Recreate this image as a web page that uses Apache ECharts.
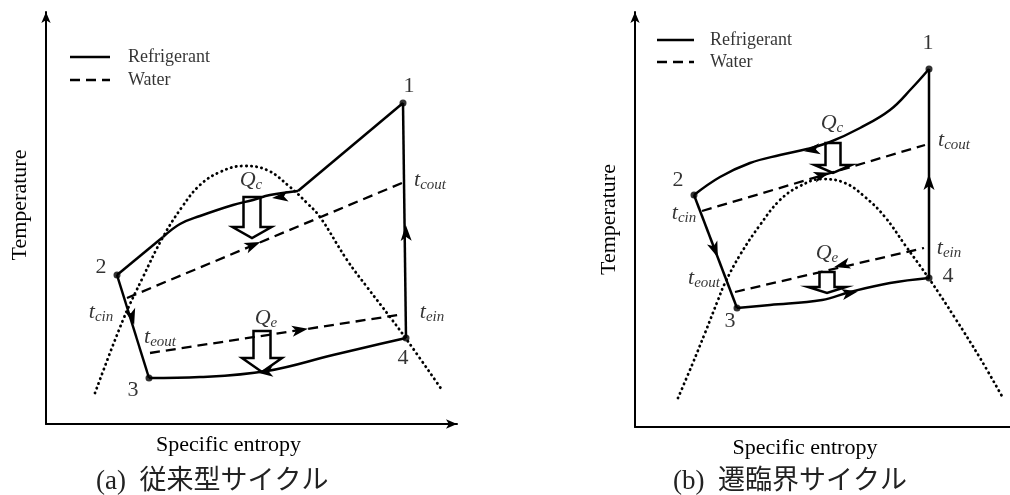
<!DOCTYPE html>
<html><head><meta charset="utf-8">
<script src="https://cdn.jsdelivr.net/npm/echarts/dist/echarts.min.js"></script>
<style>html,body{margin:0;padding:0;background:#fff}#c{width:1010px;height:495px}</style>
</head><body><div id="c"></div>
<script>
// ---------- Panel (a): conventional cycle (x: specific entropy, y: temperature, arbitrary units) ----------
const statesA = [[357,321],[71,149],[103,46],[360,86]];
const stateNames = ['1','2','3','4'];
const condA1 = [[357,321],[252,233]];
const condA2 = [[252,233],[224,229],[207,224],[187,219],[154,208],[134,200],[117,187]];
const condA3 = [[117,187],[71,149]];
const expA = [[71,149],[103,46]];
const evapA = [[103,46],[154,47],[221,53],[287,69],[321,77],[360,86]];
const compA = [[360,86],[357,321]];
const waterCondA = [[81,126],[356,241]];
const waterEvapA = [[104,71],[352,109]];
const domeA = [[49,31],[77,104],[97,147],[117,187],[136,217],[154,239],[174,252],[197,258],[221,254],[244,237],[261,221],[274,207],[301,164],[321,137],[344,107],[361,84],[396,34]];
// flow arrows: [x, y, towardX, towardY]
const flowA = [[234,227,207,224],[86,107,103,46],[219,52,154,47],[360,191,357,321],[207,179,356,241],[254,94,352,109]];
const heatA = [[206,186],[216,52]];
const textA = [
  {main:'1', at:[363,338]},{main:'2', at:[55,157]},{main:'3', at:[87,34]},{main:'4', at:[357,66]},
  {main:'t', sub:'cout', at:[384,244]},{main:'t', sub:'cin', at:[55,112]},
  {main:'t', sub:'eout', at:[114,87]},{main:'t', sub:'ein', at:[386,112]},
  {main:'Q', sub:'c', at:[205,244]},{main:'Q', sub:'e', at:[220,106]}
];
const legendA = {solid:[[24,367],[64,367]], dashed:[[24,344],[64,344]], textX:82};

// ---------- Panel (b): transcritical cycle ----------
const statesB = [[294,358],[59,232],[102,119],[294,149]];
const condB = [[294,358],[277,339],[255,317],[225,299],[195,285],[172,278],[145,272],[115,264],[85,250],[59,232]];
const expB = [[59,232],[102,119]];
const evapB = [[102,119],[135,122],[187,127],[215,135],[255,144],[294,149]];
const compB = [[294,149],[294,358]];
const waterCondB = [[67,216],[290,282]];
const waterEvapB = [[100,135],[289,179]];
const domeB = [[43,29],[57,62],[70,94],[83,127],[90,144],[105,172],[125,202],[145,227],[165,241],[187,248],[210,244],[230,230],[250,210],[270,182],[295,147],[320,109],[345,69],[368,29]];
const flowB = [[177,277,145,272],[80,177,102,119],[215,134,294,149],[294,245,294,358],[187,252,290,282],[207,162,100,135]];
const heatB = [[198,254],[192,134]];
const textB = [
  {main:'1', at:[293,384]},{main:'2', at:[43,247]},{main:'3', at:[95,106]},{main:'4', at:[313,151]},
  {main:'t', sub:'cout', at:[319,287]},{main:'t', sub:'cin', at:[49,214]},
  {main:'t', sub:'eout', at:[69,149]},{main:'t', sub:'ein', at:[314,179]},
  {main:'Q', sub:'c', at:[197,304]},{main:'Q', sub:'e', at:[192,174]}
];
const legendB = {solid:[[22,387],[59,387]], dashed:[[22,365],[59,365]], textX:75};

const captions = ['(a)  従来型サイクル', '(b)  遷臨界サイクル'];
const axisNames = {x:'Specific entropy', y:'Temperature'};
const legendNames = ['Refrigerant','Water'];

// ---------- styles ----------
const SERIF = '"Liberation Serif", "DejaVu Serif", serif';
const CAPTION_FONT = '"Liberation Serif", "Noto Sans CJK JP", serif';
const heatSizesA = [{rw:17,rh:30,hw:39,hh:11},{rw:17,rh:27,hw:40,hh:14}];
const heatSizesB = [{rw:15,rh:22,hw:37,hh:8},{rw:15,rh:15,hw:38,hh:6}];
const INK = {color:'#000'};

function line(idx, data, opt){
  return Object.assign({type:'line', xAxisIndex:idx, yAxisIndex:idx, data, symbol:'none', silent:true,
    lineStyle:{color:'#000', width:2.5}, z:3, animation:false}, opt||{});
}
function dashed(idx, data){ return line(idx, data, {lineStyle:{color:'#000', width:2.3, type:[10,6]}}); }
function dotted(idx, data){ return line(idx, data, {smooth:0.4, lineStyle:{color:'#000', width:2.8, type:[0.3,4.8], cap:'round'}, z:2}); }
function flowArrows(idx, data){
  return {type:'custom', xAxisIndex:idx, yAxisIndex:idx, data, silent:true, z:5, animation:false,
    renderItem(params, api){
      const p = api.coord([api.value(0), api.value(1)]);
      const q = api.coord([api.value(2), api.value(3)]);
      const dx = q[0]-p[0], dy = q[1]-p[1], L = Math.hypot(dx,dy)||1;
      const ux = dx/L, uy = dy/L, px = -uy, py = ux;
      const len = 16, hw = 5.5;
      const tip = [p[0]+ux*len/2, p[1]+uy*len/2];
      const b = [p[0]-ux*len/2, p[1]-uy*len/2];
      return {type:'polygon', shape:{points:[tip,[b[0]+px*hw,b[1]+py*hw],[p[0]-ux*len*0.25,p[1]-uy*len*0.25],[b[0]-px*hw,b[1]-py*hw]]},
        style:{fill:'#000'}};
    }};
}
function heatArrows(idx, data, sizes){
  return {type:'custom', xAxisIndex:idx, yAxisIndex:idx, data, silent:true, z:6, animation:false,
    renderItem(params, api){
      const t = api.coord([api.value(0), api.value(1)]);
      const s = sizes[params.dataIndex];
      const x = t[0], y = t[1];
      const pts = [[x-s.rw/2, y-s.hh-s.rh],[x+s.rw/2, y-s.hh-s.rh],[x+s.rw/2, y-s.hh],[x+s.hw/2, y-s.hh],[x, y],
                   [x-s.hw/2, y-s.hh],[x-s.rw/2, y-s.hh]];
      return {type:'polygon', shape:{points:pts}, style:{fill:'none', stroke:'#000', lineWidth:2.5, lineJoin:'miter'}};
    }};
}
function states(idx, data){
  return {type:'scatter', xAxisIndex:idx, yAxisIndex:idx, data, symbolSize:7, itemStyle:{color:'#000'}, silent:true, z:7, animation:false};
}
function texts(idx, items){
  return {type:'scatter', xAxisIndex:idx, yAxisIndex:idx, symbolSize:0, silent:true, z:8, animation:false,
    data: items.map(d=>({value:d.at, main:d.main, sub:d.sub})),
    label:{show:true, position:'inside', color:'#000', textBorderWidth:0,
      formatter:p => p.data.sub ? `{m|${p.data.main}}{s|${p.data.sub}}` : `{n|${p.data.main}}`,
      rich:{
        n:Object.assign({fontFamily:SERIF, fontSize:22}, INK),
        m:Object.assign({fontFamily:SERIF, fontSize:22, fontStyle:'italic'}, INK),
        s:Object.assign({fontFamily:SERIF, fontSize:15, fontStyle:'italic', padding:[11,0,0,0]}, INK)
      }}};
}
function legendSeries(idx, lg){
  return [
    line(idx, lg.solid),
    dashed(idx, lg.dashed),
    {type:'scatter', xAxisIndex:idx, yAxisIndex:idx, symbolSize:0, silent:true, animation:false,
      data:[[lg.textX, lg.solid[0][1]],[lg.textX, lg.dashed[0][1]]],
      label:Object.assign({show:true, position:'right', distance:0, fontFamily:SERIF, fontSize:18, textBorderWidth:0,
        formatter:p => legendNames[p.dataIndex]}, INK)}
  ];
}
function xAx(idx, max, pad, arrow){
  return {gridIndex:idx, type:'value', min:0, max, splitLine:{show:false}, axisTick:{show:false}, axisLabel:{show:false},
    axisLine:{lineStyle:{color:'#000', width:2}, symbol:['none', arrow ? 'arrow' : 'none'], symbolSize:[7,11]},
    name:axisNames.x, nameLocation:'middle', nameGap:10,
    nameTextStyle:Object.assign({fontFamily:SERIF, fontSize:22, padding:pad}, INK)};
}
function yAx(idx, max, pad){
  return {gridIndex:idx, type:'value', min:0, max, splitLine:{show:false}, axisTick:{show:false}, axisLabel:{show:false},
    axisLine:{lineStyle:{color:'#000', width:2}, symbol:['none','arrow'], symbolSize:[7,11]},
    name:axisNames.y, nameLocation:'middle', nameGap:15, nameRotate:90,
    nameTextStyle:Object.assign({fontFamily:SERIF, fontSize:22, padding:pad}, INK)};
}

const chart = echarts.init(document.getElementById('c'), null, {renderer:'canvas'});
function render(){
  chart.clear();
  chart.setOption({
    animation:false,
    backgroundColor:'#fff',
    title: captions.map((c,i)=>({text:c, left: i===0 ? 91 : 668, top:463,
      textStyle:{fontFamily:CAPTION_FONT, fontSize:27, fontWeight:'normal', color:'#222'}})),
    grid:[{left:46, top:12, width:411, height:412},{left:635, top:12, width:375, height:415}],
    xAxis:[xAx(0,411,[0,46,0,0], true), xAx(1,375,[0,35,0,0], false)],
    yAxis:[yAx(0,412,[0,0,0,26]), yAx(1,415,[0,0,0,0])],
    series:[
      dotted(0, domeA),
      line(0, condA1), line(0, condA2, {smooth:0.4}), line(0, condA3),
      line(0, expA), line(0, evapA, {smooth:0.4}), line(0, compA),
      dashed(0, waterCondA), dashed(0, waterEvapA),
      flowArrows(0, flowA), heatArrows(0, heatA, heatSizesA), states(0, statesA), texts(0, textA),
      ...legendSeries(0, legendA),
      dotted(1, domeB),
      line(1, condB, {smooth:0.4}), line(1, expB), line(1, evapB, {smooth:0.4}), line(1, compB),
      dashed(1, waterCondB), dashed(1, waterEvapB),
      flowArrows(1, flowB), heatArrows(1, heatB, heatSizesB), states(1, statesB), texts(1, textB),
      ...legendSeries(1, legendB)
    ]
  });
}
render();
if (document.fonts && document.fonts.load) {
  Promise.all([
    document.fonts.load('22px "Liberation Serif"'),
    document.fonts.load('italic 22px "Liberation Serif"'),
    document.fonts.load('27px "Noto Sans CJK JP"', '従来型サイクル遷臨界')
  ]).then(render, render);
}
</script></body></html>
